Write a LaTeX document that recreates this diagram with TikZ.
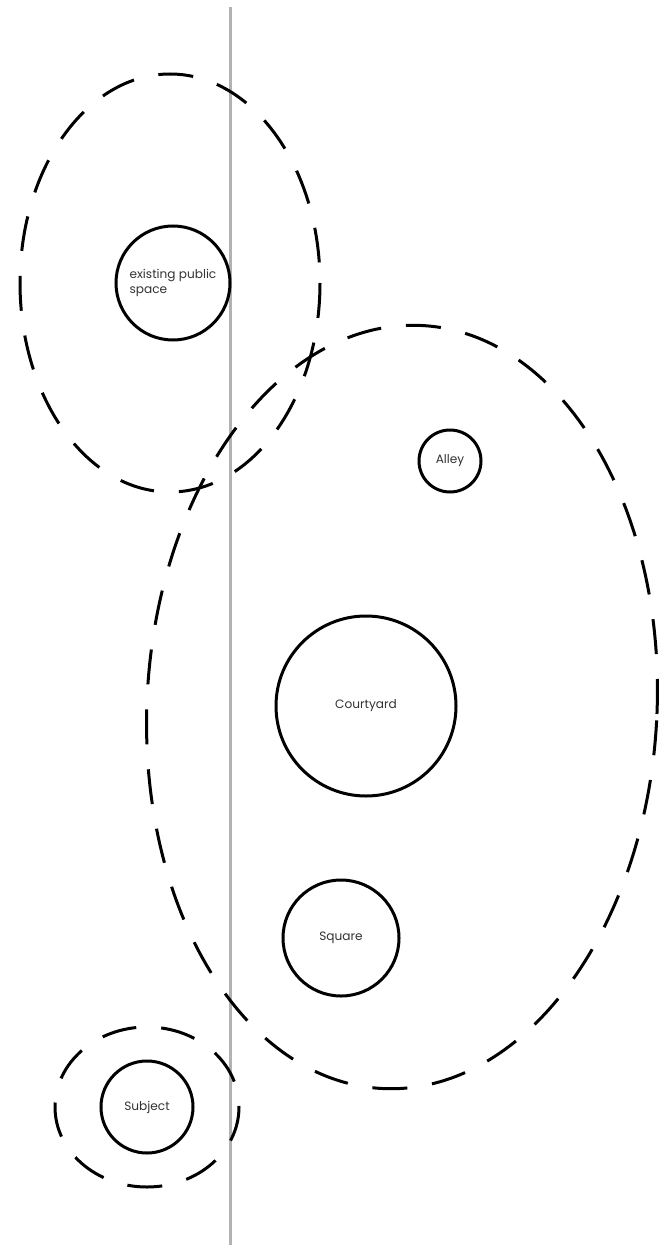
\documentclass[tikz,border=0pt]{standalone}
\usepackage{fontspec}
\setmainfont{Poppins}
\tikzset{
  place/.style={circle,draw,line width=0.6mm,fill=white,inner sep=0pt,text=black!80,font=\fontsize{6.9}{9}\selectfont},
  zone/.style={draw,line width=0.6mm,dash pattern=on 7mm off 5mm},
}
\begin{document}
\begin{tikzpicture}[x=0.2mm,y=-0.2mm]
\useasboundingbox (0,0) rectangle (659,1256);
\draw[line width=0.6mm,color=black!30] (230,7)--(230,1245);
\draw[zone] (170,283) ellipse (150 and 209);
\draw[zone,rotate around={-3:(402,707)}] (402,707) ellipse (255 and 382);
\draw[zone] (147,1107) ellipse (92 and 80);
\node[place,minimum size=22.8mm,align=left] (pub) at (173,283) {existing public\\space};
\node[place,minimum size=12.4mm] (alley) at (450,461) {Alley};
\node[place,minimum size=36mm] (court) at (366,706) {Courtyard};
\node[place,minimum size=23.2mm] (sq) at (341,938) {Square};
\node[place,minimum size=18.4mm] (subj) at (147,1107) {Subject};
\end{tikzpicture}
\end{document}
